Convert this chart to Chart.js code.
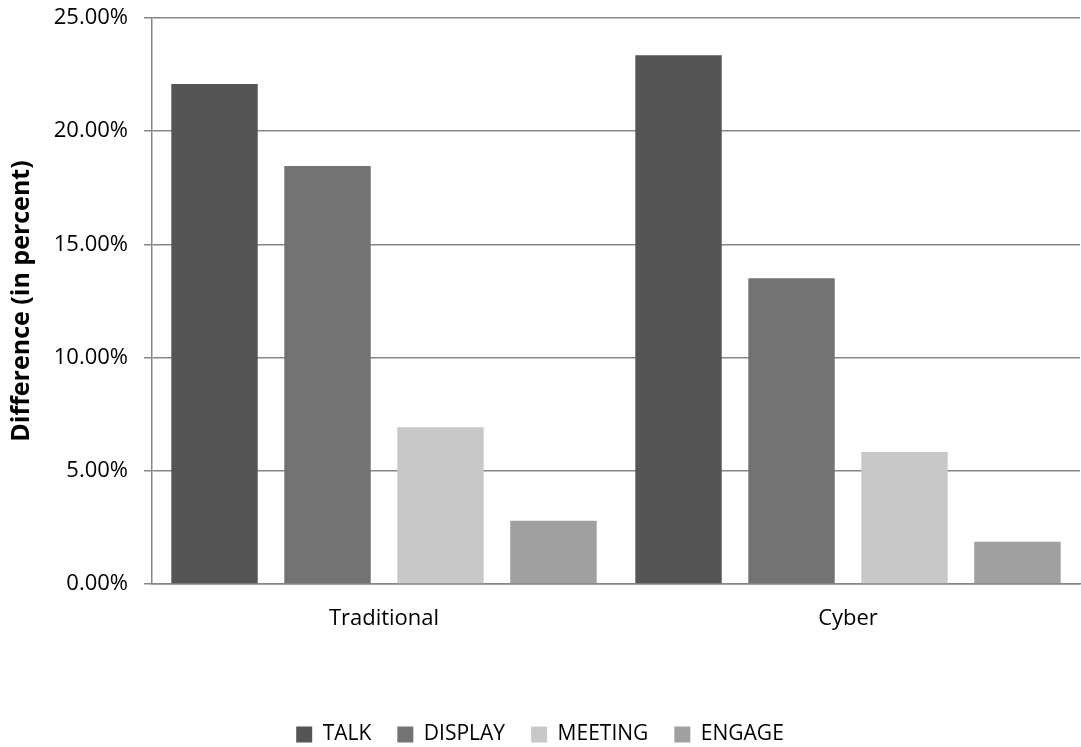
<!DOCTYPE html>
<html>
<head>
<meta charset="utf-8">
<script src="https://cdn.jsdelivr.net/npm/chart.js@4.4.1/dist/chart.umd.min.js"></script>
<style>
  html, body { margin: 0; padding: 0; background: #fff; }
  #wrap { width: 1081px; height: 747px; position: relative; }
</style>
</head>
<body>
<div id="wrap"><canvas id="c" width="1081" height="747"></canvas></div>
<script>
const categories = ["Traditional", "Cyber"];
const seriesNames = ["TALK", "DISPLAY", "MEETING", "ENGAGE"];
const talk = [22.08, 23.36];
const display = [18.46, 13.50];
const meeting = [6.92, 5.83];
const engage = [2.79, 1.87];
const yTicks = [0, 5, 10, 15, 20, 25];
const colors = ["#555555", "#737373", "#c8c8c8", "#a0a0a0"];

const FONT = "'Open Sans', 'Liberation Sans', sans-serif";

new Chart(document.getElementById('c'), {
  type: 'bar',
  data: {
    labels: categories,
    datasets: [talk, display, meeting, engage].map((d, i) => ({
      label: seriesNames[i],
      data: d,
      backgroundColor: colors[i],
      borderWidth: 0,
      categoryPercentage: 0.974,
      barPercentage: 0.765
    }))
  },
  options: {
    responsive: false,
    animation: false,
    devicePixelRatio: 1,
    layout: { padding: { top: 0, right: 1, bottom: -8, left: 0 } },
    plugins: {
      tooltip: { enabled: false },
      legend: {
        position: 'bottom',
        labels: {
          font: { family: FONT, size: 21 },
          color: '#000',
          boxWidth: 16,
          boxHeight: 16,
          padding: 26
        }
      }
    },
    scales: {
      x: {
        grid: { display: false, drawTicks: false },
        border: { display: true, color: '#868686', width: 1.5 },
        ticks: { font: { family: FONT, size: 22 }, color: '#000', padding: 22 },
        afterFit: s => { s.height = 114; }
      },
      y: {
        min: 0, max: 25,
        afterBuildTicks: s => { s.ticks = yTicks.map(v => ({ value: v })); },
        grid: { color: '#868686', lineWidth: 1.5, tickLength: 8, tickColor: '#868686' },
        border: { display: true, color: '#868686', width: 1.5 },
        ticks: {
          font: { family: FONT, size: 22 },
          color: '#000',
          padding: 16,
          callback: v => v.toFixed(2) + '%'
        },
        title: {
          display: true,
          text: 'Difference (in percent)',
          font: { family: FONT, size: 25, weight: 'bold' },
          color: '#000',
          padding: { top: 7, bottom: 0 }
        },
        afterFit: s => { s.width = 152; s.paddingTop = 18; }
      }
    }
  }
});
</script>
</body>
</html>
